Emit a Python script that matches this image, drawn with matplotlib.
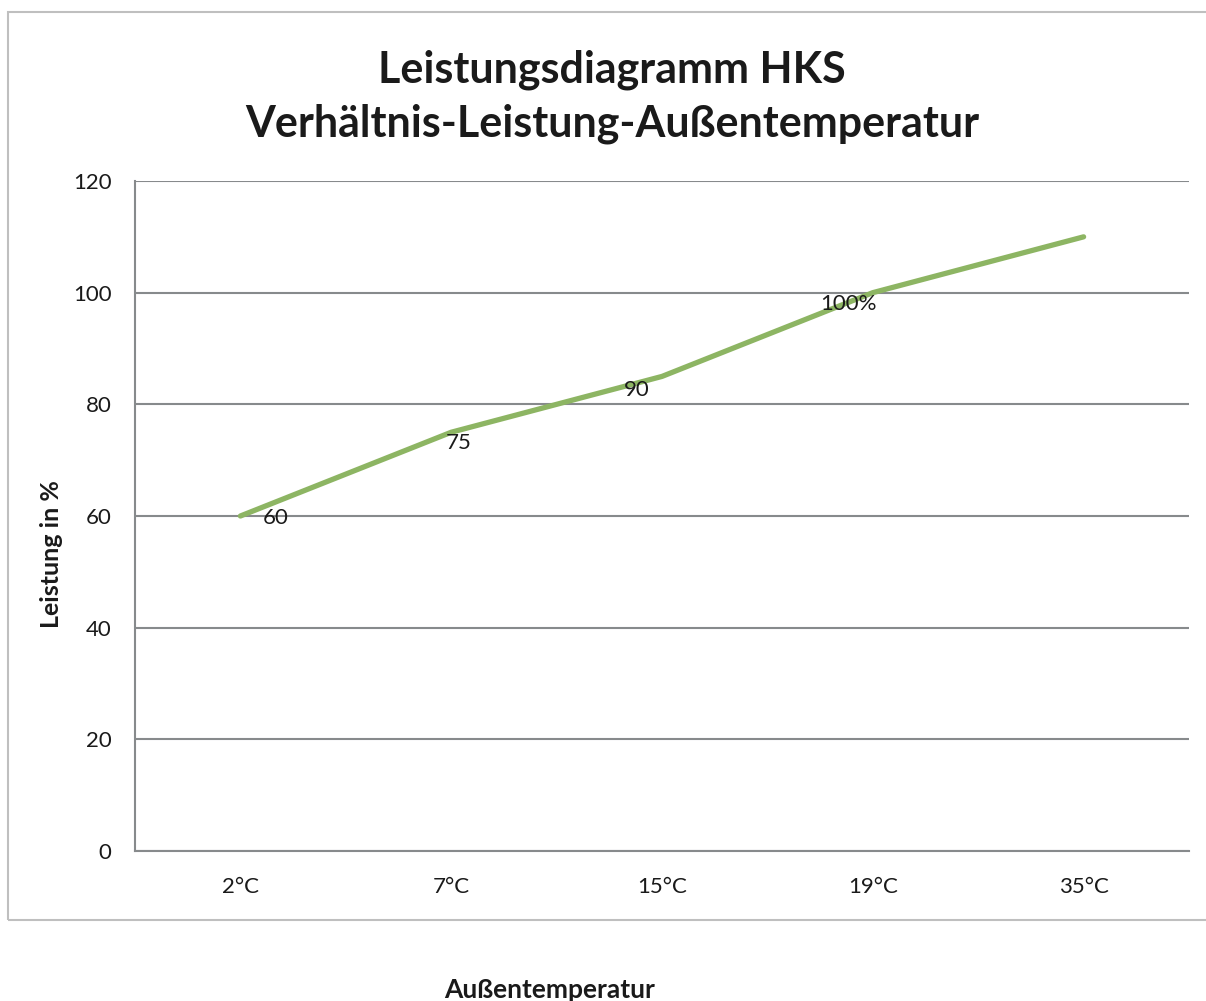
import matplotlib.pyplot as plt
from matplotlib.patches import Rectangle

# data
categories = ['2°C', '7°C', '15°C', '19°C', '35°C']
leistung = [60, 75, 85, 100, 110]
point_labels = ['60', '75', '90', '100%', '']
# pixel offsets of the data labels (Excel moved them by hand)
label_offsets = [(22, -2), (-5, -11), (-38, -14), (-53, -11), (0, 0)]
y_ticks = [0, 20, 40, 60, 80, 100, 120]

plt.rcParams['font.family'] = ['Lato', 'DejaVu Sans']

fig = plt.figure(figsize=(12.06, 10.01), dpi=100)

# chart border (right edge runs off the image)
fig.patches.append(Rectangle((8 / 1206, 1 - 920 / 1001), 1.2, (920 - 12) / 1001,
                             transform=fig.transFigure, fill=False,
                             edgecolor='#bfbfbf', linewidth=1.5))

ax = fig.add_axes([135 / 1206, 1 - 851 / 1001, 1054 / 1206, 670 / 1001])
x = list(range(len(categories)))
ax.plot(x, leistung, color='#8db563', linewidth=3.8, solid_capstyle='round', zorder=3)

for xi, yi, lab, (dx, dy) in zip(x, leistung, point_labels, label_offsets):
    if lab:
        ax.annotate(lab, (xi, yi), xytext=(dx * 0.72, dy * 0.72), textcoords='offset points',
                    ha='left', va='center', fontsize=16, color='#1a1a1a', zorder=4)

ax.set_xlim(-0.5, len(categories) - 0.5)
ax.set_ylim(0, 120)
ax.set_xticks(x)
ax.set_xticklabels(categories)
ax.set_yticks(y_ticks)
ax.tick_params(axis='both', length=0, labelsize=16, colors='#1a1a1a')
ax.tick_params(axis='x', pad=19)
ax.tick_params(axis='y', pad=17)
ax.grid(axis='y', color='#878a8c', linewidth=1.5)
ax.set_axisbelow(True)
for side in ['top', 'right']:
    ax.spines[side].set_visible(False)
ax.spines['left'].set_color('#878a8c')
ax.spines['left'].set_linewidth(1.5)
ax.spines['bottom'].set_color('#878a8c')
ax.spines['bottom'].set_linewidth(1.5)

fig.text(612 / 1206, 1 - 83 / 1001, 'Leistungsdiagramm HKS', ha='center', va='baseline',
         fontsize=31, fontweight='bold', color='#1a1a1a')
fig.text(612 / 1206, 1 - 137 / 1001, 'Verhältnis-Leistung-Außentemperatur', ha='center', va='baseline',
         fontsize=31, fontweight='bold', color='#1a1a1a')
fig.text(52 / 1206, 1 - 554 / 1001, 'Leistung in %', rotation=90, ha='center', va='center',
         fontsize=18, fontweight='bold', color='#1a1a1a')
fig.text(550 / 1206, 1 - 978 / 1001, 'Außentemperatur', ha='center', va='top',
         fontsize=19, fontweight='bold', color='#1a1a1a')

fig.savefig('out.png', dpi=100)
